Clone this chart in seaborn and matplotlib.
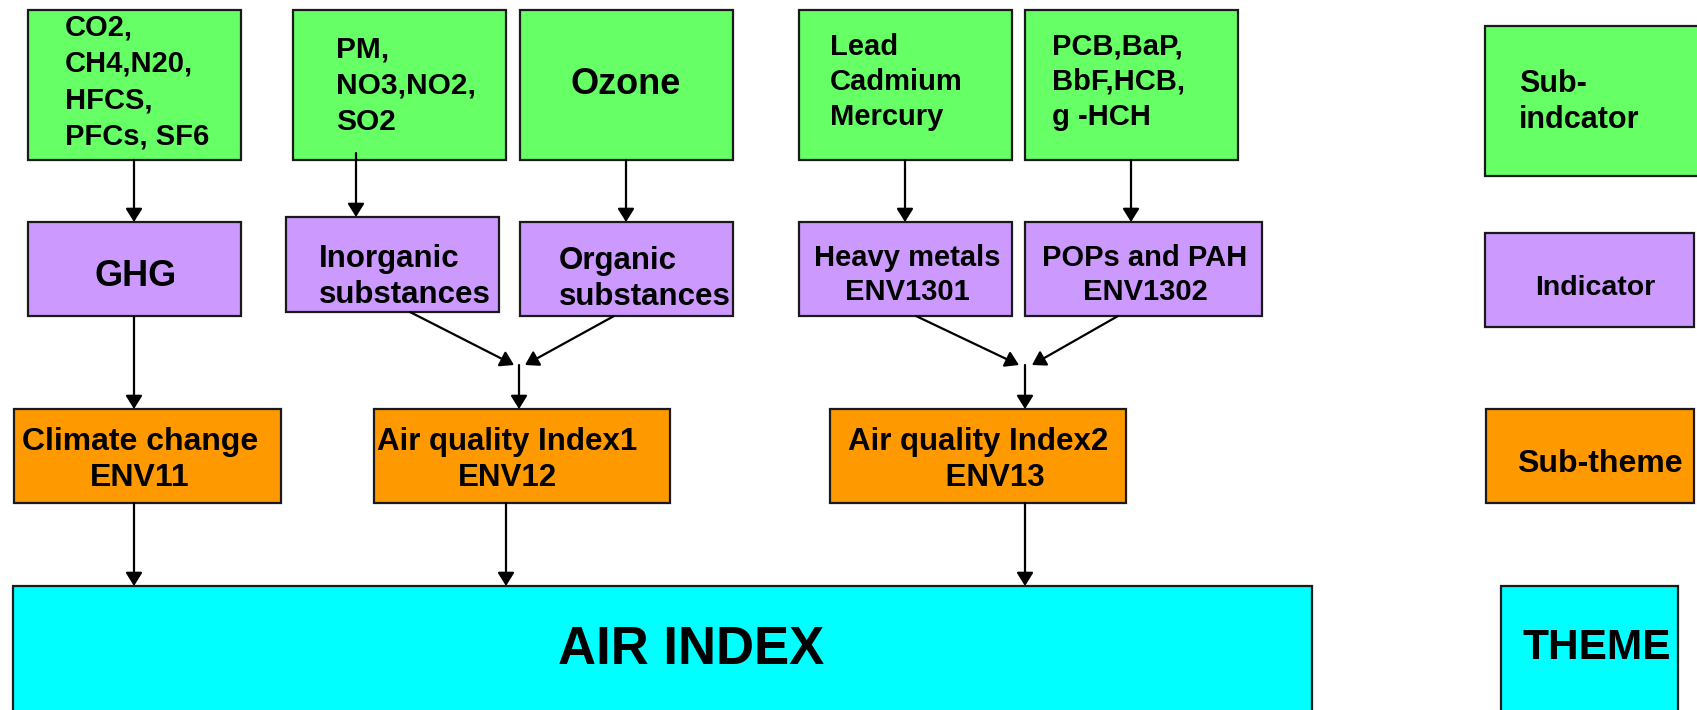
import matplotlib
matplotlib.use("Agg")
import matplotlib.pyplot as plt
from matplotlib.patches import Rectangle, FancyArrowPatch
import seaborn as sns

# Labels for each level of the hierarchy
sub_indicators = ["CO2,\nCH4,N20,\nHFCS,\nPFCs, SF6", "PM,\nNO3,NO2,\nSO2", "Ozone",
                  "Lead\nCadmium\nMercury", "PCB,BaP,\nBbF,HCB,\ng -HCH"]
indicators = ["GHG", "Inorganic\nsubstances", "Organic\nsubstances",
              "Heavy metals\nENV1301", "POPs and PAH\nENV1302"]
sub_themes = ["Climate change\nENV11", "Air quality Index1\nENV12", "Air quality Index2\n    ENV13"]
theme = "AIR INDEX"
legend_levels = ["Sub-\nindcator", "Indicator", "Sub-theme", "THEME"]

sns.set_theme(style="white")
plt.rcParams['font.family'] = ['Liberation Sans', 'DejaVu Sans']

GREEN, PURPLE, ORANGE, CYAN = '#66FF66', '#CC99FF', '#FF9900', '#00FFFF'

fig = plt.figure(figsize=(16.97, 7.10), dpi=100)
ax = fig.add_axes([0, 0, 1, 1])
ax.set_xlim(0, 1697)
ax.set_ylim(710, 0)
ax.axis('off')


def box(x0, y0, x1, y1, color):
    ax.add_patch(Rectangle((x0, y0), x1 - x0, y1 - y0, facecolor=color,
                           edgecolor='#1a1a1a', linewidth=1.6, zorder=2))


def label(x, y, s, size, ha='left', ls=1.3):
    ax.text(x, y, s, ha=ha, va='center', fontsize=size, fontweight='bold',
            linespacing=ls, multialignment=ha, color='black', zorder=4)


def arrow(x0, y0, x1, y1):
    ax.add_patch(FancyArrowPatch((x0, y0), (x1, y1),
                                 arrowstyle='-|>,head_length=0.4,head_width=0.25',
                                 mutation_scale=20, color='black', linewidth=1.6,
                                 shrinkA=0, shrinkB=0, zorder=3))


# sub-indicator row
top = [(28, 241), (293, 506), (520, 733), (799, 1012), (1025, 1238)]
for (x0, x1) in top:
    box(x0, 10, x1, 160, GREEN)
label(65, 82, sub_indicators[0], 21, ls=1.37)
label(336, 86, sub_indicators[1], 21.5, ls=1.37)
label(626, 85, sub_indicators[2], 26, ha='center')
label(830, 82, sub_indicators[3], 21, ls=1.33)
label(1052, 82, sub_indicators[4], 21, ls=1.33)

# indicator row
mid = [(28, 241, 222, 316), (286, 499, 217, 312), (520, 733, 222, 316),
       (799, 1012, 222, 316), (1025, 1262, 222, 316)]
for (x0, x1, y0, y1) in mid:
    box(x0, y0, x1, y1, PURPLE)
label(136, 277, indicators[0], 26, ha='center')
label(319, 277, indicators[1], 22.5)
label(559, 279, indicators[2], 22.5)
label(907, 275, indicators[3], 21, ha='center')
label(1145, 275, indicators[4], 21, ha='center')

# sub-theme row
low = [(14, 281), (374, 670), (830, 1126)]
for (x0, x1) in low:
    box(x0, 409, x1, 503, ORANGE)
label(140, 460, sub_themes[0], 23, ha='center')
label(507, 460, sub_themes[1], 22.5, ha='center')
label(978, 460, sub_themes[2], 22.5, ha='center')

# theme
box(13, 586, 1312, 720, CYAN)
label(691, 650, theme, 38, ha='center')

# legend column
box(1485, 26, 1705, 176, GREEN)
label(1519, 102, legend_levels[0], 22)
box(1485, 233, 1694, 327, PURPLE)
label(1595, 288, legend_levels[1], 20.5, ha='center')
box(1486, 409, 1694, 503, ORANGE)
label(1600, 464, legend_levels[2], 23, ha='center')
box(1501, 586, 1678, 720, CYAN)
label(1597, 648, legend_levels[3], 30.5, ha='center')

# arrows between levels
arrow(134, 160, 134, 222)
arrow(356, 153, 356, 217)
arrow(626, 160, 626, 222)
arrow(905, 160, 905, 222)
arrow(1131, 160, 1131, 222)

arrow(134, 316, 134, 409)
arrow(410, 312, 514, 365)
arrow(614, 316, 525, 365)
arrow(519, 365, 519, 409)
arrow(916, 316, 1019, 365)
arrow(1118, 316, 1032, 365)
arrow(1025, 365, 1025, 409)

arrow(134, 503, 134, 586)
arrow(506, 503, 506, 586)
arrow(1025, 503, 1025, 586)

fig.savefig('out.png', dpi=100, facecolor='white')
